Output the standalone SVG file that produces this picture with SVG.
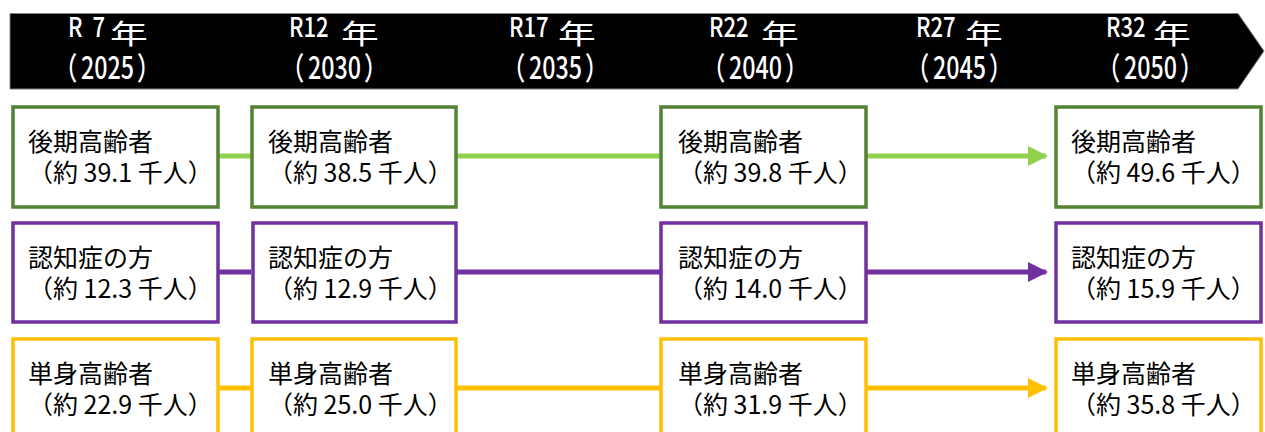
<svg xmlns="http://www.w3.org/2000/svg" width="1265" height="432" viewBox="0 0 1265 432">
<defs>
<style>
.hd{font-family:"Noto Sans CJK JP","Noto Sans",sans-serif;fill:#fff;font-size:27px;font-weight:500}
.nen{font-family:"Noto Sans CJK JP",sans-serif;fill:#fff;font-size:27px}
.yr{font-family:"Noto Sans CJK JP","Noto Sans",sans-serif;fill:#fff;font-size:31px;font-weight:500}
.t{font-family:"Noto Sans CJK JP","Noto Sans",sans-serif;fill:#000;font-size:25px}
.bx{fill:#fff;stroke-width:3.5}
.g{stroke:#548235}.p{stroke:#7030A0}.y{stroke:#FFC000}
.ln{fill:none;stroke-width:5}
</style>
<marker id="ag" viewBox="0 0 10 10" refX="9" refY="5" markerWidth="4" markerHeight="4" orient="auto" markerUnits="strokeWidth"><path d="M0,0L10,5L0,10z" fill="#92D050"/></marker>
<marker id="ap" viewBox="0 0 10 10" refX="9" refY="5" markerWidth="4" markerHeight="4" orient="auto" markerUnits="strokeWidth"><path d="M0,0L10,5L0,10z" fill="#7030A0"/></marker>
<marker id="ay" viewBox="0 0 10 10" refX="9" refY="5" markerWidth="4" markerHeight="4" orient="auto" markerUnits="strokeWidth"><path d="M0,0L10,5L0,10z" fill="#FFC000"/></marker>
</defs>
<rect width="1265" height="432" fill="#fff"/>
<g id="banner">
<path d="M10,13.5H1238L1264,51L1238,89H10z" fill="#000" stroke="#808080" stroke-width="1"/>
<text class="hd" transform="translate(68,37) scale(0.82,1)">R <tspan dx="6">7</tspan></text>
<text class="nen" transform="translate(110,44) scale(1.4,1)">年</text>
<text class="yr" transform="translate(54,79) scale(0.75,1)">（<tspan dx="5">2025</tspan><tspan dx="4">）</tspan></text>
<text class="hd" transform="translate(289,37) scale(0.82,1)">R12</text>
<text class="nen" transform="translate(341,44) scale(1.4,1)">年</text>
<text class="yr" transform="translate(281,79) scale(0.75,1)">（<tspan dx="5">2030</tspan><tspan dx="4">）</tspan></text>
<text class="hd" transform="translate(509,37) scale(0.82,1)">R17</text>
<text class="nen" transform="translate(558,44) scale(1.4,1)">年</text>
<text class="yr" transform="translate(502,79) scale(0.75,1)">（<tspan dx="5">2035</tspan><tspan dx="4">）</tspan></text>
<text class="hd" transform="translate(709,37) scale(0.82,1)">R22</text>
<text class="nen" transform="translate(761,44) scale(1.4,1)">年</text>
<text class="yr" transform="translate(702,79) scale(0.75,1)">（<tspan dx="5">2040</tspan><tspan dx="4">）</tspan></text>
<text class="hd" transform="translate(916,37) scale(0.82,1)">R27</text>
<text class="nen" transform="translate(965,44) scale(1.4,1)">年</text>
<text class="yr" transform="translate(906,79) scale(0.75,1)">（<tspan dx="5">2045</tspan><tspan dx="4">）</tspan></text>
<text class="hd" transform="translate(1106,37) scale(0.82,1)">R32</text>
<text class="nen" transform="translate(1153,44) scale(1.4,1)">年</text>
<text class="yr" transform="translate(1097,79) scale(0.75,1)">（<tspan dx="5">2050</tspan><tspan dx="4">）</tspan></text>
</g>
<g id="connectors">
<path class="ln" d="M218,156H251M456,156H660M866,156H1046" stroke="#92D050" marker-end="url(#ag)"/>
<path class="ln" d="M218,272H251M456,272H660M866,272H1046" stroke="#7030A0" marker-end="url(#ap)"/>
<path class="ln" d="M218,388H251M456,388H660M866,388H1046" stroke="#FFC000" marker-end="url(#ay)"/>
</g>
<g id="n1a"><rect class="bx g" x="13" y="107" width="205" height="100"/><text class="t" x="28" y="151">後期高齢者</text><text class="t" x="28" y="182">（約 39.1 千人）</text></g>
<g id="n1b"><rect class="bx g" x="252" y="107" width="204" height="100"/><text class="t" x="268" y="151">後期高齢者</text><text class="t" x="268" y="182">（約 38.5 千人）</text></g>
<g id="n1c"><rect class="bx g" x="661" y="107" width="205" height="100"/><text class="t" x="678" y="151">後期高齢者</text><text class="t" x="678" y="182">（約 39.8 千人）</text></g>
<g id="n1d"><rect class="bx g" x="1056" y="107" width="205" height="100"/><text class="t" x="1071" y="151">後期高齢者</text><text class="t" x="1071" y="182">（約 49.6 千人）</text></g>
<g id="n2a"><rect class="bx p" x="13" y="223" width="205" height="99"/><text class="t" x="28" y="267">認知症の方</text><text class="t" x="28" y="298">（約 12.3 千人）</text></g>
<g id="n2b"><rect class="bx p" x="253" y="223" width="203" height="99"/><text class="t" x="268" y="267">認知症の方</text><text class="t" x="268" y="298">（約 12.9 千人）</text></g>
<g id="n2c"><rect class="bx p" x="661" y="223" width="205" height="99"/><text class="t" x="678" y="267">認知症の方</text><text class="t" x="678" y="298">（約 14.0 千人）</text></g>
<g id="n2d"><rect class="bx p" x="1056" y="223" width="205" height="99"/><text class="t" x="1071" y="267">認知症の方</text><text class="t" x="1071" y="298">（約 15.9 千人）</text></g>
<g id="n3a"><rect class="bx y" x="13" y="339" width="205" height="100"/><text class="t" x="28" y="383">単身高齢者</text><text class="t" x="28" y="414">（約 22.9 千人）</text></g>
<g id="n3b"><rect class="bx y" x="252" y="339" width="204" height="100"/><text class="t" x="268" y="383">単身高齢者</text><text class="t" x="268" y="414">（約 25.0 千人）</text></g>
<g id="n3c"><rect class="bx y" x="661" y="339" width="205" height="100"/><text class="t" x="678" y="383">単身高齢者</text><text class="t" x="678" y="414">（約 31.9 千人）</text></g>
<g id="n3d"><rect class="bx y" x="1056" y="339" width="205" height="100"/><text class="t" x="1071" y="383">単身高齢者</text><text class="t" x="1071" y="414">（約 35.8 千人）</text></g>
</svg>
